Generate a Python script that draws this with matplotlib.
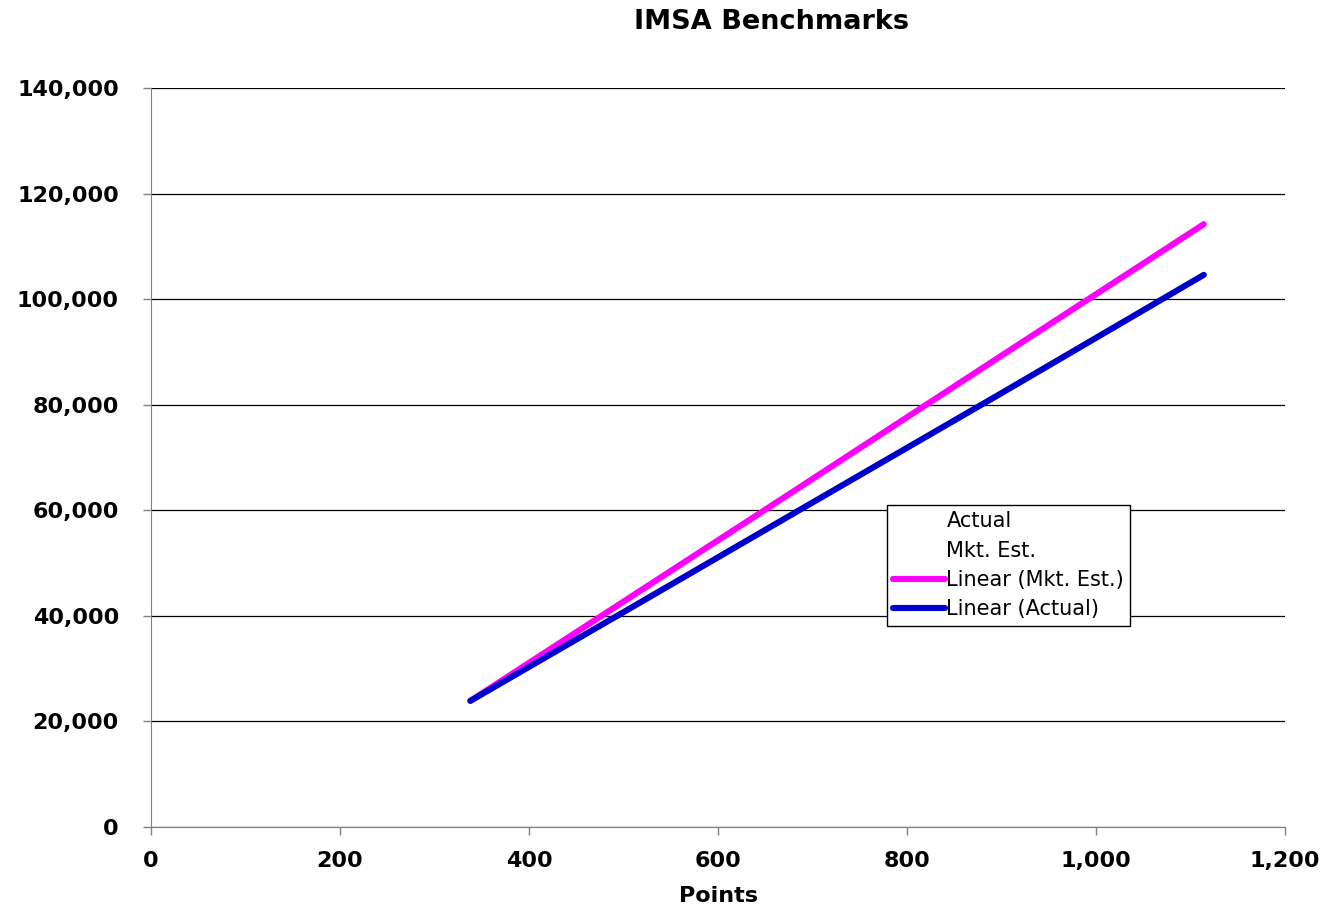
import matplotlib.pyplot as plt
from matplotlib.ticker import FuncFormatter

# Trendline points
points = [338, 500, 680, 900, 1114]
mkt_est = [23900, 42700, 63600, 89300, 114200]
actual = [23900, 40700, 59400, 82200, 104600]

x_ticks = [0, 200, 400, 600, 800, 1000, 1200]
y_ticks = [0, 20000, 40000, 60000, 80000, 100000, 120000, 140000]

plt.rcParams['font.family'] = ['DejaVu Sans']

fig = plt.figure(figsize=(13.24, 9.08), dpi=100)
ax = fig.add_axes([0.114, 0.0892, 0.8566, 0.8139])

# the raw series have no visible markers, only their legend labels
ax.plot([], [], ls='none', label='Actual')
ax.plot([], [], ls='none', label='Mkt. Est.')
ax.plot(points, mkt_est, color='#ff00ff', lw=4.4, solid_capstyle='round',
        label='Linear (Mkt. Est.)', zorder=3)
ax.plot(points, actual, color='#0000cc', lw=4.4, solid_capstyle='round',
        label='Linear (Actual)', zorder=4)

ax.set_xlim(0, 1200)
ax.set_ylim(0, 140000)
ax.set_xticks(x_ticks)
ax.set_yticks(y_ticks)
ax.xaxis.set_major_formatter(FuncFormatter(lambda v, p: f'{int(v):,}'))
ax.yaxis.set_major_formatter(FuncFormatter(lambda v, p: f'{int(v):,}'))
ax.tick_params(axis='both', labelsize=16, length=6, width=1, color='#808080',
               direction='out')
ax.tick_params(axis='y', pad=17)
ax.tick_params(axis='x', pad=11)
for lab in ax.get_xticklabels() + ax.get_yticklabels():
    lab.set_fontweight('bold')

ax.grid(axis='y', color='black', lw=0.9)
ax.set_axisbelow(True)
for side in ['top', 'right']:
    ax.spines[side].set_visible(False)
for side in ['left', 'bottom']:
    ax.spines[side].set_color('#808080')

ax.set_xlabel('Points', fontsize=16, fontweight='bold', labelpad=11)
fig.suptitle('IMSA Benchmarks', x=0.583, y=0.99, fontsize=19.5, fontweight='bold')

leg = ax.legend(loc='upper left', bbox_to_anchor=(887 / 1324, 1 - 505 / 908),
                bbox_transform=fig.transFigure, fontsize=15, frameon=True,
                fancybox=False, edgecolor='black', framealpha=1,
                handlelength=2.5, handletextpad=0.05, borderpad=0.3,
                labelspacing=0.45, borderaxespad=0)
leg.get_frame().set_linewidth(1)

fig.savefig('out.png', dpi=100)
